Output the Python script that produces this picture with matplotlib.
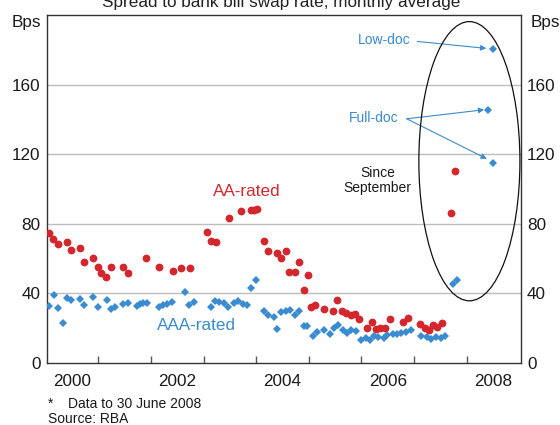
import matplotlib
matplotlib.use("Agg")
import matplotlib.pyplot as plt
from matplotlib.patches import Ellipse

plt.rcParams['font.family'] = ['Liberation Sans', 'DejaVu Sans']

# ---- data (decimal years, basis points) ----
aa_x = [2000.07, 2000.14, 2000.23, 2000.41, 2000.49, 2000.65, 2000.73, 2000.90, 2000.99,
        2001.06, 2001.15, 2001.24, 2001.47, 2001.57, 2001.91, 2002.15, 2002.41, 2002.57,
        2002.74, 2003.07, 2003.15, 2003.24, 2003.48, 2003.72, 2003.90, 2003.96, 2004.01,
        2004.15, 2004.23, 2004.40, 2004.48, 2004.57, 2004.63, 2004.74, 2004.82, 2004.91,
        2004.99, 2005.05, 2005.12, 2005.28, 2005.45, 2005.54, 2005.63, 2005.71, 2005.80,
        2005.88, 2005.95, 2006.11, 2006.20, 2006.28, 2006.36, 2006.45, 2006.54, 2006.79,
        2006.88, 2007.11, 2007.20, 2007.28, 2007.36, 2007.44, 2007.53]
aa_v = [74.6, 71.4, 68.2, 69.5, 65.1, 65.7, 58.1, 60.0, 54.9,
        51.8, 49.5, 54.9, 54.9, 51.8, 60.0, 54.9, 52.7, 54.6,
        54.6, 74.9, 69.9, 69.5, 83.2, 87.2, 87.6, 87.8, 88.2,
        69.9, 64.2, 62.9, 60.0, 64.2, 52.0, 52.0, 57.9, 41.6,
        50.5, 32.3, 33.3, 31.0, 29.6, 35.9, 29.6, 28.6, 27.3,
        28.2, 25.1, 20.0, 23.2, 19.4, 20.0, 20.0, 25.1, 23.2,
        25.7, 22.5, 20.0, 18.6, 21.9, 20.6, 22.9]
aa_sep_x = [2007.71, 2007.78]
aa_sep_v = [86.3, 110.0]

aaa_x = [2000.07, 2000.16, 2000.24, 2000.32, 2000.41, 2000.49, 2000.65, 2000.73, 2000.90,
         2000.99, 2001.16, 2001.24, 2001.32, 2001.47, 2001.57, 2001.73, 2001.79, 2001.85,
         2001.92, 2002.16, 2002.23, 2002.31, 2002.40, 2002.65, 2002.73, 2002.82, 2003.15,
         2003.22, 2003.30, 2003.39, 2003.47, 2003.57, 2003.66, 2003.74, 2003.82, 2003.90,
         2004.00, 2004.15, 2004.23, 2004.33, 2004.40, 2004.48, 2004.57, 2004.64, 2004.74,
         2004.82, 2004.90, 2004.97, 2005.07, 2005.15, 2005.29, 2005.40, 2005.48, 2005.56,
         2005.64, 2005.73, 2005.81, 2005.90, 2005.99, 2006.09, 2006.16, 2006.24, 2006.32,
         2006.42, 2006.49, 2006.59, 2006.68, 2006.76, 2006.85, 2006.94, 2007.14, 2007.24,
         2007.33, 2007.42, 2007.51, 2007.59]
aaa_v = [32.7, 38.9, 31.4, 22.9, 37.1, 36.2, 36.6, 33.3, 37.7,
         32.0, 35.8, 30.9, 32.0, 33.9, 34.3, 32.7, 33.9, 34.6,
         34.6, 32.1, 33.0, 33.8, 35.1, 40.9, 33.3, 35.0, 31.8,
         35.6, 34.9, 34.3, 32.3, 34.3, 35.6, 33.7, 33.3, 43.2,
         47.6, 29.5, 27.2, 26.1, 19.6, 29.1, 29.5, 30.5, 27.6,
         29.5, 21.3, 21.3, 15.6, 17.5, 18.6, 16.7, 20.0, 21.9,
         19.0, 17.1, 18.6, 18.1, 12.9, 14.3, 13.3, 15.6, 14.9,
         14.3, 16.2, 16.7, 16.7, 17.1, 17.5, 18.6, 15.6, 14.9,
         13.7, 14.9, 14.3, 15.6]
aaa_sep_x = [2007.73, 2007.82]
aaa_sep_v = [45.3, 47.6]

lowdoc_x = [2008.49]
lowdoc_v = [180.3]
fulldoc_x = [2008.41, 2008.49]
fulldoc_v = [145.1, 114.8]

year_labels = ['2000', '2002', '2004', '2006', '2008']
y_ticks = [0, 40, 80, 120, 160]

RED = '#d4262d'
BLUE = '#3a8bcf'
TXT = '#1a1a1a'

fig = plt.figure(figsize=(5.6, 4.25), dpi=100)
ax = fig.add_axes([47 / 560, 1 - 362.7 / 425, (520.7 - 47) / 560, (362.7 - 15) / 425])

ax.set_xlim(2000.025, 2009.025)
ax.set_ylim(0, 200)

for yv in y_ticks[1:]:
    ax.axhline(yv, color='#bdbdbd', lw=1.0, zorder=0)

ax.plot(aaa_x + aaa_sep_x, aaa_v + aaa_sep_v, linestyle='none', marker='D',
        markersize=3.7, color=BLUE, mew=0, zorder=3)
ax.plot(lowdoc_x + fulldoc_x, lowdoc_v + fulldoc_v, linestyle='none', marker='D',
        markersize=3.7, color=BLUE, mew=0, zorder=3)
ax.plot(aa_x + aa_sep_x, aa_v + aa_sep_v, linestyle='none', marker='o',
        markersize=5.6, color=RED, mew=0, zorder=4)

# ticks
ax.set_xticks(range(2001, 2009))
ax.set_xticklabels([])
ax.tick_params(axis='x', which='major', direction='in', length=5, width=1, color='#555555')
ax.set_xticks([int(y) + 0.5 for y in year_labels], minor=True)
ax.set_xticklabels(year_labels, minor=True)
ax.tick_params(axis='x', which='minor', length=0, pad=8, labelsize=12.3, labelcolor=TXT)

ax.set_yticks(y_ticks)
ax.set_yticklabels([str(v) for v in y_ticks])
ax.tick_params(axis='y', length=0, labelsize=12.3, labelcolor=TXT, pad=4.5,
               labelright=True, right=False)
for lab in ax.get_yticklabels():
    pass
ax.yaxis.set_tick_params(which='major', pad=4.5)

for s in ax.spines.values():
    s.set_color('#333333')
    s.set_linewidth(1.0)

# right tick labels padding
for t in ax.yaxis.get_major_ticks():
    t.label2.set_horizontalalignment('left')
ax.tick_params(axis='y', which='major')

# ellipse
ell = Ellipse((2008.05, 115.9), width=1.92, height=160.6, fill=False,
              edgecolor='#111111', lw=0.9, zorder=5)
ax.add_patch(ell)

# labels
ax.text(2003.82, 98.6, 'AA-rated', color=RED, fontsize=12.3, ha='center', va='center')
ax.text(2002.87, 21.3, 'AAA-rated', color=BLUE, fontsize=12.3, ha='center', va='center')
ax.text(2006.30, 104.9, 'Since\nSeptember', color=TXT, fontsize=10, ha='center',
        va='center', linespacing=1.15)

arrow_kw = dict(arrowstyle='-|>', color=BLUE, lw=0.8, mutation_scale=8,
                shrinkA=0, shrinkB=0)
ax.text(2006.44, 185.5, 'Low-doc', color=BLUE, fontsize=10, ha='center', va='center')
ax.annotate('', xy=(2008.37, 180.8), xytext=(2007.06, 184.8), arrowprops=arrow_kw)
ax.text(2006.24, 141.0, 'Full-doc', color=BLUE, fontsize=10, ha='center', va='center')
ax.annotate('', xy=(2008.33, 145.5), xytext=(2006.86, 140.3), arrowprops=arrow_kw)
ax.annotate('', xy=(2008.38, 117.3), xytext=(2006.86, 140.3), arrowprops=arrow_kw)

# figure texts
fig.text(280.8 / 560, 1 - 6.5 / 425, 'Spread to bank bill swap rate, monthly average',
         ha='center', va='baseline', fontsize=12.3, color='#222222')
fig.text(41.5 / 560, 1 - 22.5 / 425, 'Bps', ha='right', va='center', fontsize=12.3, color=TXT)
fig.text(530.5 / 560, 1 - 22.5 / 425, 'Bps', ha='left', va='center', fontsize=12.3, color=TXT)
fig.text(48.3 / 560, 1 - 403.5 / 425, '*', ha='left', va='center', fontsize=10, color=TXT)
fig.text(68.3 / 560, 1 - 403.5 / 425, 'Data to 30 June 2008', ha='left', va='center',
         fontsize=10, color=TXT)
fig.text(48.3 / 560, 1 - 419.3 / 425, 'Source: RBA', ha='left', va='center',
         fontsize=10, color=TXT)

fig.savefig('out.png', dpi=100)
